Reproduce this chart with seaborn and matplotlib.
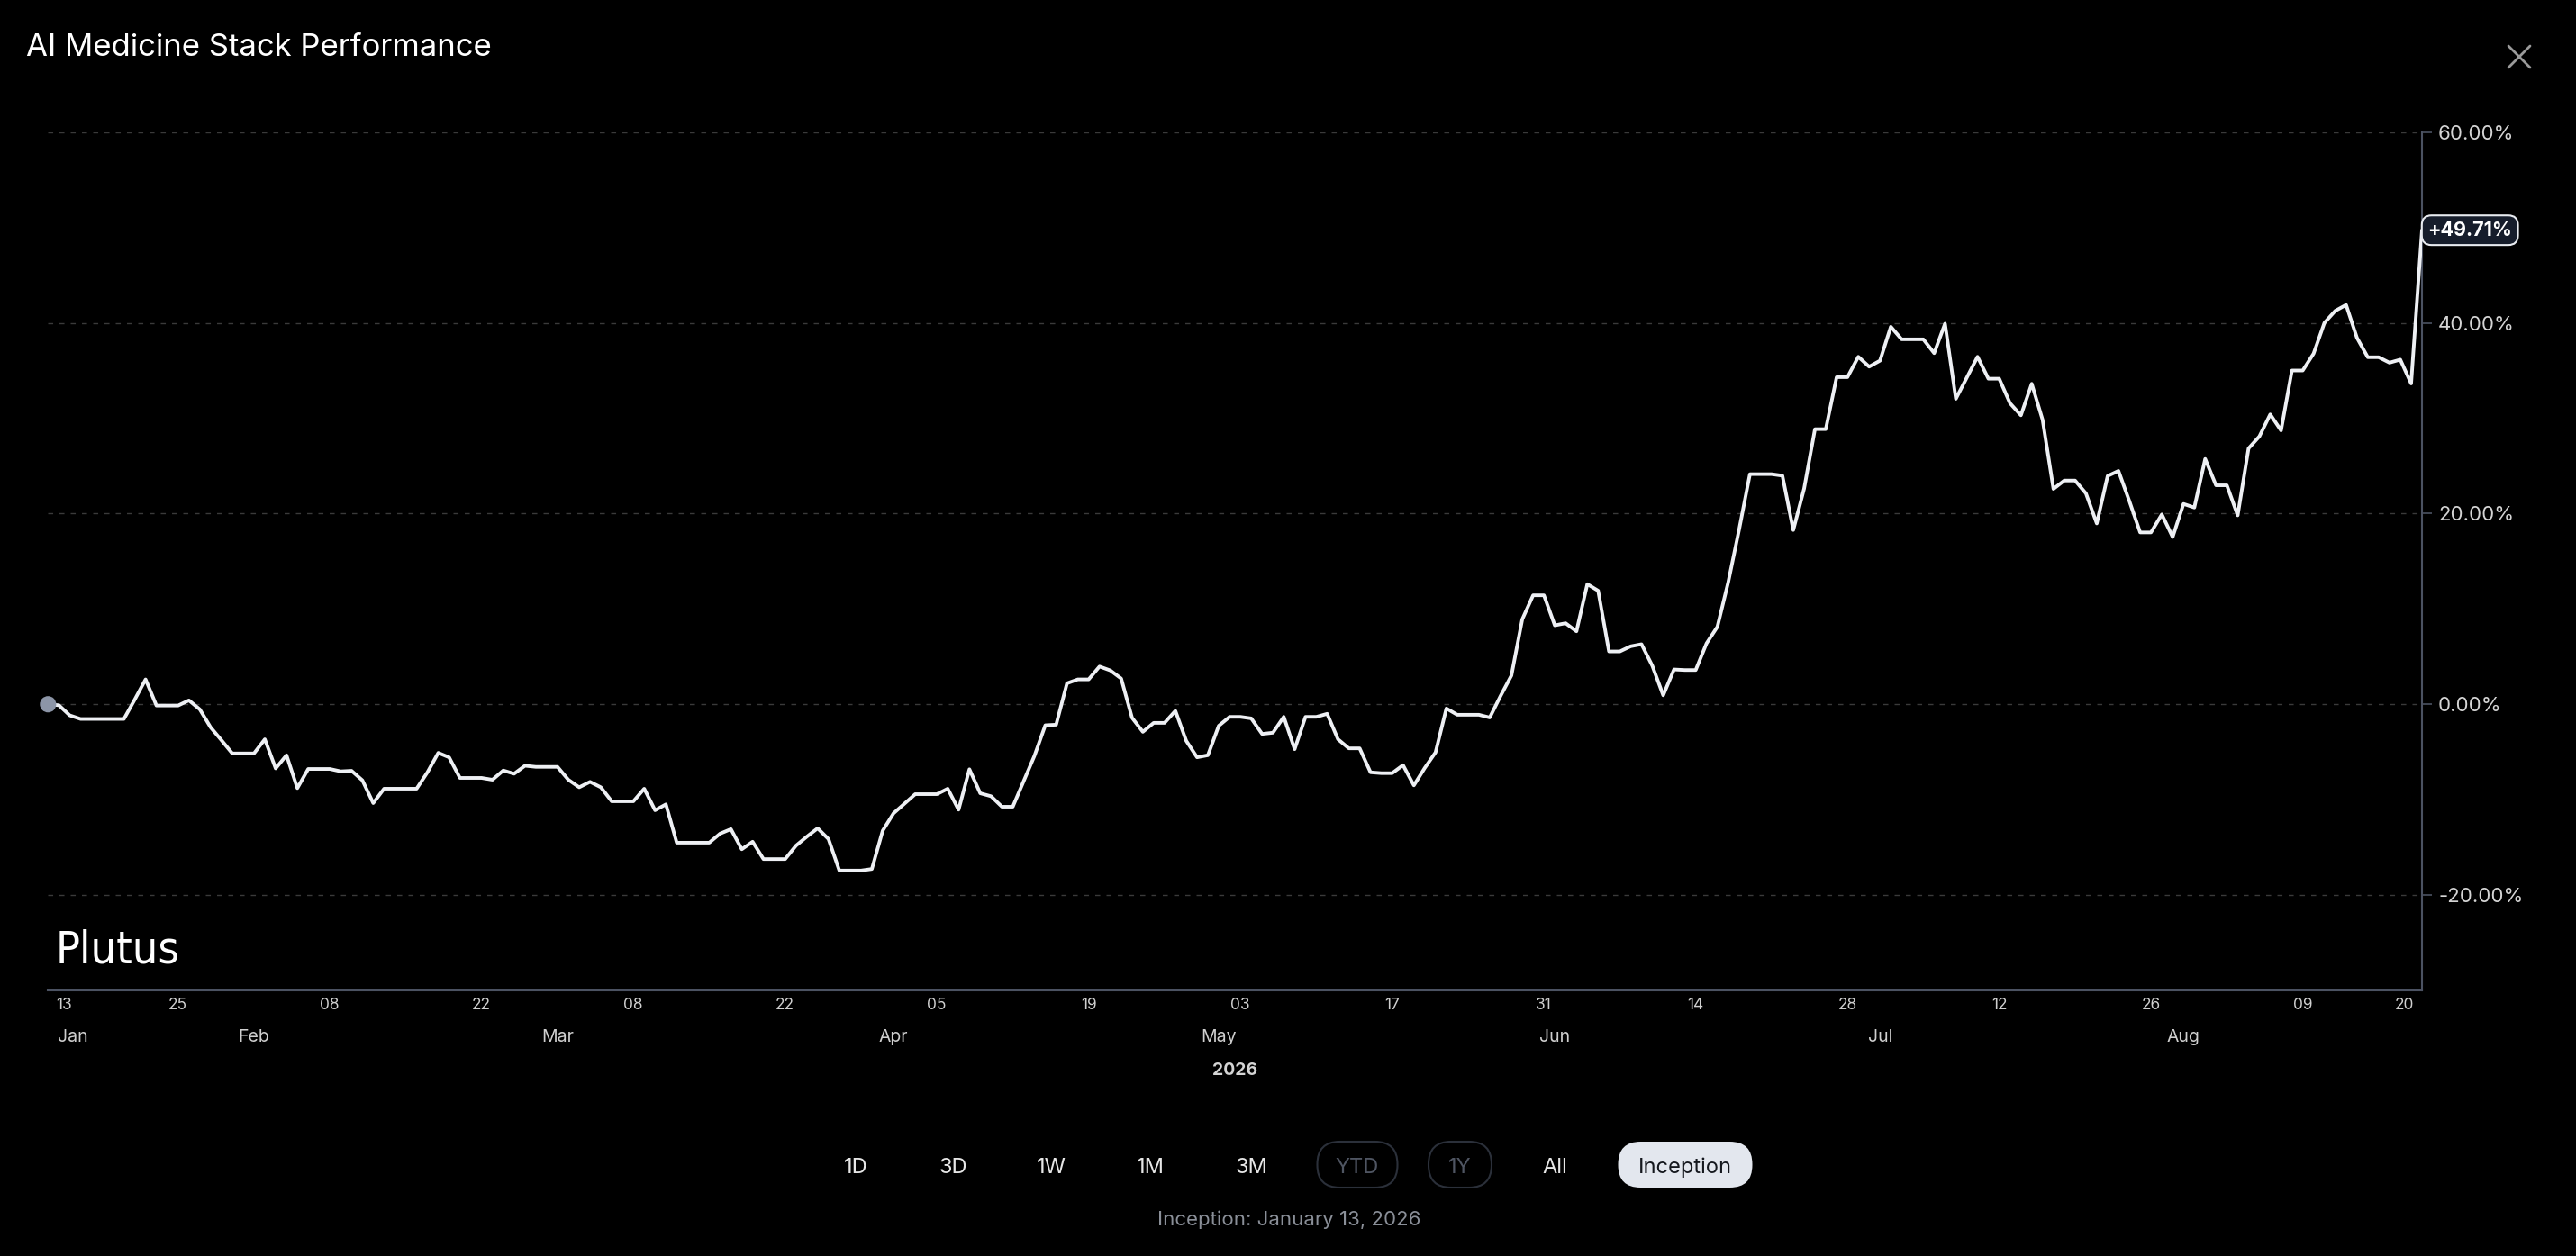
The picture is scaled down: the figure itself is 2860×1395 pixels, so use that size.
import numpy as np
import pandas as pd
import seaborn as sns
import matplotlib.pyplot as plt
from matplotlib.patches import FancyBboxPatch
from matplotlib.ticker import FuncFormatter
from matplotlib.transforms import ScaledTranslation

# daily performance (%) since inception, one list per month
jan_vals = [0.0, -0.1, -1.16, -1.54, -1.54, -1.54, -1.54, -1.54, 0.5, 2.61,
            -0.13, -0.13, -0.13, 0.41, -0.53, -2.42, -3.77, -5.15, -5.15]
feb_vals = [-5.15, -3.67, -6.72, -5.34, -8.79, -6.78, -6.78, -6.78, -7.03, -6.97,
            -7.97, -10.36, -8.85, -8.85, -8.85, -8.85, -7.13, -5.09, -5.56, -7.72,
            -7.72, -7.72, -7.91, -6.94, -7.28, -6.44, -6.56, -6.56]
mar_vals = [-6.56, -7.91, -8.70, -8.13, -8.70, -10.17, -10.17, -10.17, -8.85, -11.11,
            -10.49, -14.51, -14.51, -14.51, -14.51, -13.56, -13.09, -15.20, -14.41, -16.23,
            -16.23, -16.23, -14.82, -13.88, -13.00, -14.13, -17.43, -17.43, -17.43, -17.27,
            -13.25]
apr_vals = [-11.43, -10.42, -9.42, -9.42, -9.42, -8.85, -11.05, -6.81, -9.33, -9.64,
            -10.74, -10.74, -8.07, -5.40, -2.20, -2.14, 2.20, 2.61, 2.61, 3.96,
            3.55, 2.70, -1.41, -2.89, -1.95, -1.95, -0.69, -3.83, -5.56, -5.34]
may_vals = [-2.26, -1.32, -1.32, -1.48, -3.11, -2.98, -1.32, -4.71, -1.32, -1.32,
            -1.00, -3.67, -4.62, -4.62, -7.13, -7.22, -7.22, -6.38, -8.50, -6.68,
            -5.04, -0.44, -1.10, -1.10, -1.10, -1.39, 0.88, 3.02, 8.91, 11.43,
            11.43]
jun_vals = [8.28, 8.50, 7.65, 12.60, 11.91, 5.54, 5.54, 6.08, 6.30, 4.03,
            0.94, 3.65, 3.59, 3.59, 6.39, 8.13, 12.8, 18.3, 24.13, 24.13,
            24.13, 23.97, 18.27, 22.61, 28.85, 28.85, 34.30, 34.30, 36.44, 35.40]
jul_vals = [36.03, 39.59, 38.27, 38.27, 38.27, 36.82, 39.91, 32.03, 34.24, 36.44,
            34.14, 34.14, 31.56, 30.30, 33.61, 29.83, 22.58, 23.46, 23.46, 22.11,
            18.96, 23.94, 24.47, 21.32, 18.02, 18.02, 19.91, 17.54, 21.01, 20.63,
            25.73]
aug_vals = [22.96, 22.96, 19.81, 26.83, 28.09, 30.40, 28.71, 35.00, 35.00, 36.77,
            40.00, 41.26, 41.88, 38.43, 36.39, 36.39, 35.82, 36.14, 33.63, 49.71]

start_date = '2026-01-13'
end_date = '2026-08-20'
y_ticks = [-20, 0, 20, 40, 60]
month_names = ['Jan', 'Feb', 'Mar', 'Apr', 'May', 'Jun', 'Jul', 'Aug']
month_pos = ['2026-01-13', '2026-02-01', '2026-03-01', '2026-04-01',
             '2026-05-01', '2026-06-01', '2026-07-01', '2026-07-29']
buttons = ['1D', '3D', '1W', '1M', '3M', 'YTD', '1Y', 'All', 'Inception']

values = jan_vals + feb_vals + mar_vals + apr_vals + may_vals + jun_vals + jul_vals + aug_vals
dates = pd.date_range(start_date, end_date, freq='D')
df = pd.DataFrame({'date': dates, 'pct': values})

sns.set_style('dark', {'axes.facecolor': 'black', 'figure.facecolor': 'black'})
plt.rcParams['font.family'] = ['Inter', 'DejaVu Sans']

fig = plt.figure(figsize=(28.6, 13.95), dpi=100, facecolor='black')
ax = fig.add_axes([0.01864, 0.21147, 0.92157, 0.68337])
ax.set_facecolor('black')

sns.lineplot(data=df, x='date', y='pct', ax=ax, color='#eef0f4', linewidth=2.8, zorder=3)
sns.scatterplot(data=df.iloc[:1], x='date', y='pct', ax=ax, s=170, color='#8c95a7',
                edgecolor='none', zorder=4, clip_on=False)

ax.set_xlim(dates[0], dates[-1])
ax.set_ylim(-30, 60)
ax.set_xlabel('')
ax.set_ylabel('')

# y axis on the right
ax.yaxis.tick_right()
ax.set_yticks(y_ticks)
ax.yaxis.set_major_formatter(FuncFormatter(lambda v, p: f'{v:.2f}%'))
ax.tick_params(axis='y', length=8, width=1.2, color='#4b5262', pad=5,
               labelsize=16, labelcolor='#d4d4d4')
ax.yaxis.grid(True, color='#3a3a3a', linestyle=(0, (4, 5)), linewidth=1.0)
ax.xaxis.grid(False)

for side in ['left', 'top']:
    ax.spines[side].set_visible(False)
for side in ['right', 'bottom']:
    ax.spines[side].set_visible(True)
    ax.spines[side].set_color('#4b5262')
    ax.spines[side].set_linewidth(1.5)

# day ticks every two weeks
xt = [dates[0]] + list(pd.date_range('2026-01-25', '2026-08-09', freq='14D')) + [dates[-1]]
ax.set_xticks(xt)
ax.set_xticklabels([d.strftime('%d') for d in xt])
ax.tick_params(axis='x', length=0, pad=6, labelsize=12.5, labelcolor='#cfcfcf')
xl = ax.get_xticklabels()
xl[0].set_ha('left')
xl[0].set_transform(xl[0].get_transform() + ScaledTranslation(0.09, 0, fig.dpi_scale_trans))
xl[-1].set_ha('right')
xl[-1].set_transform(xl[-1].get_transform() + ScaledTranslation(-0.09, 0, fig.dpi_scale_trans))

for name, pos in zip(month_names, month_pos):
    x0 = pd.Timestamp(pos)
    if name == 'Jan':
        ax.text(x0, -0.0545, '  ' + name, transform=ax.get_xaxis_transform(),
                ha='left', va='center', fontsize=14, color='#cfcfcf')
    else:
        ax.text(x0, -0.0545, name, transform=ax.get_xaxis_transform(),
                ha='center', va='center', fontsize=14, color='#cfcfcf')
ax.text(0.5, -0.0934, '2026', transform=ax.transAxes, ha='center', va='center',
        fontsize=14, fontweight='bold', color='#d4d4d4')

ax.annotate(f'+{values[-1]:.2f}%', xy=(dates[-1], values[-1]), xytext=(4.5, 0),
            textcoords='offset points', ha='left', va='center', fontsize=15.5,
            fontweight='bold', color='white', annotation_clip=False, zorder=5,
            bbox=dict(boxstyle='round,pad=0.3,rounding_size=0.5', fc='#161d2b',
                      ec='#e8ebf0', lw=1.5))

# overlay in pixel coordinates for the surrounding UI
ov = fig.add_axes([0, 0, 1, 1], zorder=5)
ov.set_xlim(0, 2860)
ov.set_ylim(1395, 0)
ov.axis('off')
ov.patch.set_alpha(0)

ov.text(29, 53, 'AI Medicine Stack Performance', ha='left', va='center',
        fontsize=25, color='white')
ov.plot([2785, 2809], [51, 75], color='#9a9a9a', lw=2)
ov.plot([2809, 2785], [51, 75], color='#9a9a9a', lw=2)

# logo: condensed face, tight tracking
ov.text(62, 1069, 'Plutus', ha='left', va='baseline', fontsize=36, color='white',
        family=['DejaVu Sans'], fontstretch='condensed')

btn_x = [950, 1058, 1167, 1277, 1389, 1507, 1621, 1726, 1871]
btn_w = {'YTD': 89, '1Y': 70, 'Inception': 149}
for lab, bx in zip(buttons, btn_x):
    color = '#e6e6e6'
    if lab in ('YTD', '1Y'):
        color = '#4f5562'
        ov.add_patch(FancyBboxPatch((bx - btn_w[lab] / 2, 1268), btn_w[lab], 51,
                                    boxstyle='round,pad=0,rounding_size=25',
                                    fc='none', ec='#2b303a', lw=1.5))
    if lab == 'Inception':
        color = '#15181e'
        ov.add_patch(FancyBboxPatch((bx - btn_w[lab] / 2, 1268), btn_w[lab], 51,
                                    boxstyle='round,pad=0,rounding_size=25',
                                    fc='#e3e7ee', ec='none'))
    ov.text(bx, 1297, lab, ha='center', va='center', fontsize=17, color=color)

ov.text(1431, 1355, 'Inception: January 13, 2026', ha='center', va='center',
        fontsize=16, color='#8a8f98')

fig.savefig('out.png', dpi=100, facecolor='black')
